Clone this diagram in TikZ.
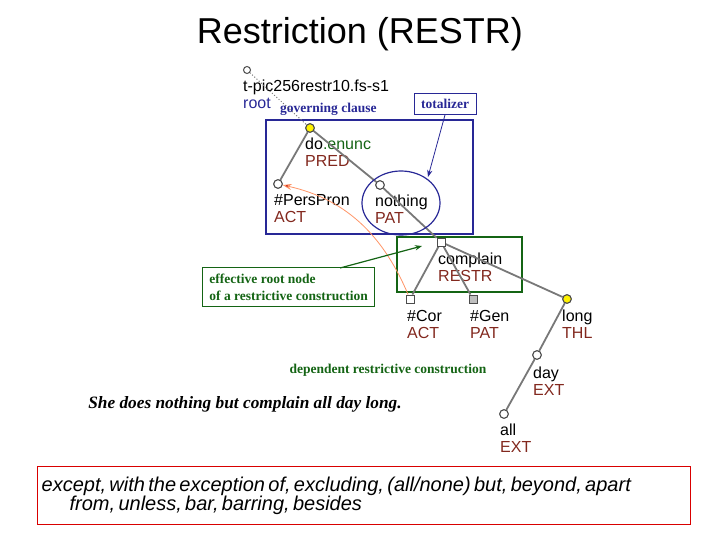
\documentclass[tikz,border=0pt]{standalone}
\usepackage{fontspec}
\setmainfont{Liberation Sans}
\newfontfamily\serf{Liberation Serif}
\usetikzlibrary{arrows.meta,shapes.geometric}
\definecolor{fred}{RGB}{130,40,30}
\definecolor{fgreen}{RGB}{20,100,20}
\definecolor{fblue}{RGB}{40,40,150}
\definecolor{eg}{RGB}{120,120,120}
\begin{document}
\begin{tikzpicture}[x=1pt,y=-1pt,
  nd/.style={circle,draw=black!70,fill=white,inner sep=0pt,minimum size=8.5pt,line width=1pt},
  ynd/.style={nd,fill=yellow},
  sq/.style={rectangle,draw=black!70,fill=white,inner sep=0pt,minimum size=8pt,line width=1pt},
  lab/.style={anchor=north west,inner sep=0pt,font=\fontsize{16}{17}\selectfont,align=left},
  edge/.style={draw=eg,line width=1.8pt},
  sn/.style={font=\serf\bfseries\fontsize{13.5}{17}\selectfont,inner sep=0pt}]
\useasboundingbox (0,0) rectangle (720,540);
\node (title) at (360,34) {\fontsize{36}{38}\selectfont Restriction (RESTR)};
\node[nd,minimum size=7pt] (root) at (247,70) {};
\node[lab] (rootl) at (243,80) {t-pic256restr10.fs-s1\\\textcolor{fblue}{root}};
\node[sn,text=fblue,anchor=west] (gov) at (280,109) {governing clause};
\node[sn,text=fblue,draw=fblue,line width=0.8pt,inner sep=3pt,minimum width=62pt,minimum height=21pt] (tot) at (445,104) {totalizer};
\draw[fblue,line width=1.2pt] (266,120) rectangle (473,234);
\draw[fgreen,line width=1.2pt] (397,237) rectangle (522,292);
\node[ynd] (do) at (310,128) {};
\node[nd] (pp) at (278,184) {};
\node[nd] (no) at (380,185) {};
\node[sq] (co) at (441,242) {};
\node[sq] (cor) at (410,299) {};
\node[sq,fill=black!25] (gen) at (473,299) {};
\node[ynd] (lo) at (567,299) {};
\node[nd] (da) at (537,355) {};
\node[nd] (al) at (504,414) {};
\node[lab] (dol) at (305,138) {do\textcolor{fgreen}{.enunc}\\\textcolor{fred}{PRED}};
\node[lab] (ppl) at (274,194) {\#PersPron\\\textcolor{fred}{ACT}};
\node[lab] (nol) at (375,195) {nothing\\\textcolor{fred}{PAT}};
\node[lab] (col) at (438,253) {complain\\\textcolor{fred}{RESTR}};
\node[lab] (corl) at (407,310) {\#Cor\\\textcolor{fred}{ACT}};
\node[lab] (genl) at (470,310) {\#Gen\\\textcolor{fred}{PAT}};
\node[lab] (lol) at (562,310) {long\\\textcolor{fred}{THL}};
\node[lab] (dal) at (533,367) {day\\\textcolor{fred}{EXT}};
\node[lab] (all) at (500,424) {all\\\textcolor{fred}{EXT}};
\draw[eg,dotted,line width=1pt] (root) -- (do);
\draw[edge] (do) -- (pp);
\draw[edge] (do) -- (no);
\draw[edge] (no) -- (co);
\draw[edge] (co) -- (cor);
\draw[edge] (co) -- (gen);
\draw[edge] (co) -- (lo);
\draw[edge] (lo) -- (da);
\draw[edge] (da) -- (al);
\node[nd] at (pp) {};\node[nd] at (no) {};\node[ynd] at (do) {};
\node[sq] at (co) {};\node[sq] at (cor) {};\node[sq,fill=black!25] at (gen) {};
\node[ynd] at (lo) {};\node[nd] at (da) {};\node[nd] at (al) {};
\node[draw=fblue,line width=1.2pt,ellipse,minimum width=78pt,minimum height=64pt,inner sep=0pt] (ell) at (401,203) {};
\draw[fblue,line width=0.8pt,-{Stealth[length=7pt]}] (tot.south) -- (428,177);
\draw[red!40!orange!60,line width=0.8pt,-{Stealth[length=9pt,width=6pt,fill=red!70!black]}] (cor) .. controls (385,240) and (350,200) .. (pp);
\node[sn,text=fgreen,draw=fgreen,line width=1.2pt,align=left,inner sep=3pt,anchor=north west,minimum width=172pt,minimum height=39pt] (eff) at (202,267) {effective root node\\of a restrictive construction};
\draw[fgreen,line width=1.2pt,-{Stealth[length=7pt]}] (340,268) -- (422,246);
\node[sn,text=fgreen] (dep) at (388,370) {dependent restrictive construction};
\node[inner sep=0pt] (sent) at (245,404) {\serf\bfseries\itshape\fontsize{17.3}{18}\selectfont She does nothing but complain all day long.};
\node[draw=red!85!black,line width=1.3pt,anchor=north west,minimum width=653pt,minimum height=58pt,text width=645pt,align=left,inner sep=4pt] (ex) at (37,466)
 {\fontsize{20}{21}\selectfont \itshape except, with the exception of, excluding, (all/none) but, beyond, apart\\\hspace*{28pt}from, unless, bar, barring, besides};
\end{tikzpicture}
\end{document}
